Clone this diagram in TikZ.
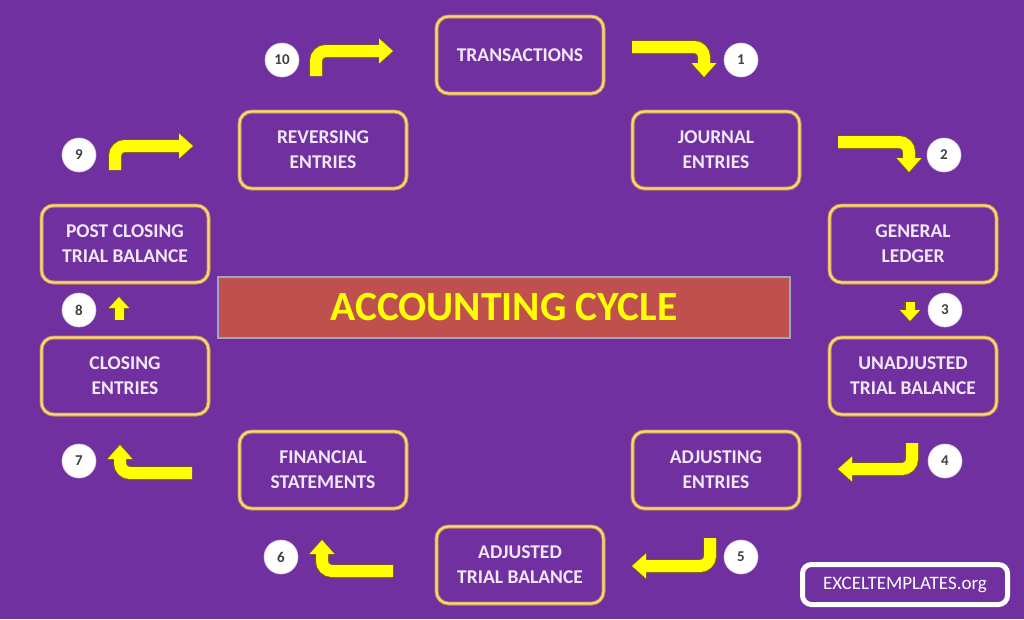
\documentclass[tikz,border=0pt]{standalone}
\usepackage{fontspec}
\setmainfont{Carlito}
\usetikzlibrary{arrows.meta}
\definecolor{bg}{RGB}{112,48,160}
\definecolor{boxout}{RGB}{196,140,72}
\definecolor{boxin}{RGB}{248,214,128}
\definecolor{boxtext}{RGB}{242,232,250}
\definecolor{bannerfill}{RGB}{192,80,77}
\definecolor{bannerline}{RGB}{160,165,200}
\definecolor{titleyellow}{RGB}{255,255,0}
\definecolor{arrowyellow}{RGB}{255,255,0}
\definecolor{arrowedge}{RGB}{120,80,50}
\definecolor{numtext}{RGB}{64,64,64}
\newcommand\yarr[1]{\draw[arrout] #1; \draw[arrin] #1;}
\begin{document}
\begin{tikzpicture}[x=1pt,y=-1pt,
  stepbox/.style={draw=boxout, double=boxin, line width=0.9pt, double distance=2.2pt,
    rounded corners=12pt, fill=bg, minimum width=167pt, minimum height=77pt,
    align=center, text=boxtext, font=\fontsize{19.5}{25}\selectfont\bfseries, inner sep=0pt},
  banner/.style={draw=bannerline, line width=1.5pt, fill=bannerfill, minimum width=572pt,
    minimum height=61pt, text=titleyellow, font=\fontsize{41.5}{44}\selectfont\bfseries, inner sep=0pt},
  badge/.style={circle, fill=white, draw={rgb,255:red,215;green,200;blue,230}, line width=0.6pt,
    minimum size=34pt, inner sep=0pt, text=numtext, font=\fontsize{15}{16}\selectfont\bfseries},
  arrout/.style={draw=arrowedge, line width=14.5pt, rounded corners=10pt,
    shorten >=-1.5pt, -{Triangle[width=27pt, length=16pt]}},
  arrin/.style={draw=arrowyellow, line width=12pt, rounded corners=10pt,
    -{Triangle[width=24pt, length=14pt]}},
  sarrout/.style={draw=arrowedge, line width=11.5pt, shorten >=-1.2pt,
    -{Triangle[width=22pt, length=13pt]}},
  sarrin/.style={draw=arrowyellow, line width=9pt, -{Triangle[width=19.5pt, length=11pt]}},
  site/.style={draw=white, line width=5pt, rounded corners=9pt, fill=bg,
    minimum width=205pt, minimum height=40pt, text=white, font=\fontsize{19}{20}\selectfont, inner sep=0pt}
]
\fill[bg] (0,0) rectangle (1024,619);
\useasboundingbox (0,0) rectangle (1024,619);

% boxes
\node[stepbox] (trans) at (520,55) {TRANSACTIONS};
\node[stepbox] (journal) at (716,150) {JOURNAL\\ENTRIES};
\node[stepbox] (ledger) at (913,244) {GENERAL\\LEDGER};
\node[stepbox] (unadj) at (913,376) {UNADJUSTED\\TRIAL BALANCE};
\node[stepbox] (adjent) at (716,470) {ADJUSTING\\ENTRIES};
\node[stepbox] (adjtb) at (520,565) {ADJUSTED\\TRIAL BALANCE};
\node[stepbox] (fin) at (323,470) {FINANCIAL\\STATEMENTS};
\node[stepbox] (closing) at (125,376) {CLOSING\\ENTRIES};
\node[stepbox] (postcl) at (125,244) {POST CLOSING\\TRIAL BALANCE};
\node[stepbox] (rev) at (323,150) {REVERSING\\ENTRIES};

% banner
\node[banner] (title) at (504,307.5) {ACCOUNTING CYCLE};

% badges
\node[badge] (n10) at (282,60) {10};
\node[badge] (n1) at (741,60) {1};
\node[badge] (n2) at (944,155) {2};
\node[badge] (n3) at (945,310) {3};
\node[badge] (n4) at (945,461) {4};
\node[badge] (n5) at (741,557) {5};
\node[badge] (n6) at (281,557) {6};
\node[badge] (n7) at (79,461) {7};
\node[badge] (n8) at (79,310) {8};
\node[badge] (n9) at (79,155) {9};

% arrow end points
\coordinate (a10s) at (316,76);  \coordinate (a10c) at (316,51);  \coordinate (a10e) at (393,51);
\coordinate (a1s) at (632,47);   \coordinate (a1c) at (704,47);   \coordinate (a1e) at (704,77);
\coordinate (a2s) at (838,142);  \coordinate (a2c) at (909,142);  \coordinate (a2e) at (909,172);
\coordinate (a3s) at (910,302);  \coordinate (a3e) at (910,321);
\coordinate (a4s) at (912,443);  \coordinate (a4c) at (912,469);  \coordinate (a4e) at (838,469);
\coordinate (a5s) at (710,538);  \coordinate (a5c) at (710,566);  \coordinate (a5e) at (632,566);
\coordinate (a6s) at (393,571);  \coordinate (a6c) at (322,571);  \coordinate (a6e) at (322,540);
\coordinate (a7s) at (192,473);  \coordinate (a7c) at (120,473);  \coordinate (a7e) at (120,445);
\coordinate (a8s) at (119,320);  \coordinate (a8e) at (119,297);
\coordinate (a9s) at (115,170);  \coordinate (a9c) at (115,146);  \coordinate (a9e) at (193,146);

\yarr{(a10s) -- (a10c) -- (a10e)}
\yarr{(a1s) -- (a1c) -- (a1e)}
\yarr{(a2s) -- (a2c) -- (a2e)}
\yarr{(a4s) -- (a4c) -- (a4e)}
\yarr{(a5s) -- (a5c) -- (a5e)}
\yarr{(a6s) -- (a6c) -- (a6e)}
\yarr{(a7s) -- (a7c) -- (a7e)}
\yarr{(a9s) -- (a9c) -- (a9e)}
\draw[sarrout] (a3s) -- (a3e); \draw[sarrin] (a3s) -- (a3e);
\draw[sarrout] (a8s) -- (a8e); \draw[sarrin] (a8s) -- (a8e);

% site badge
\node[site] (site) at (905,584.5) {EXCELTEMPLATES.org};
\end{tikzpicture}
\end{document}
